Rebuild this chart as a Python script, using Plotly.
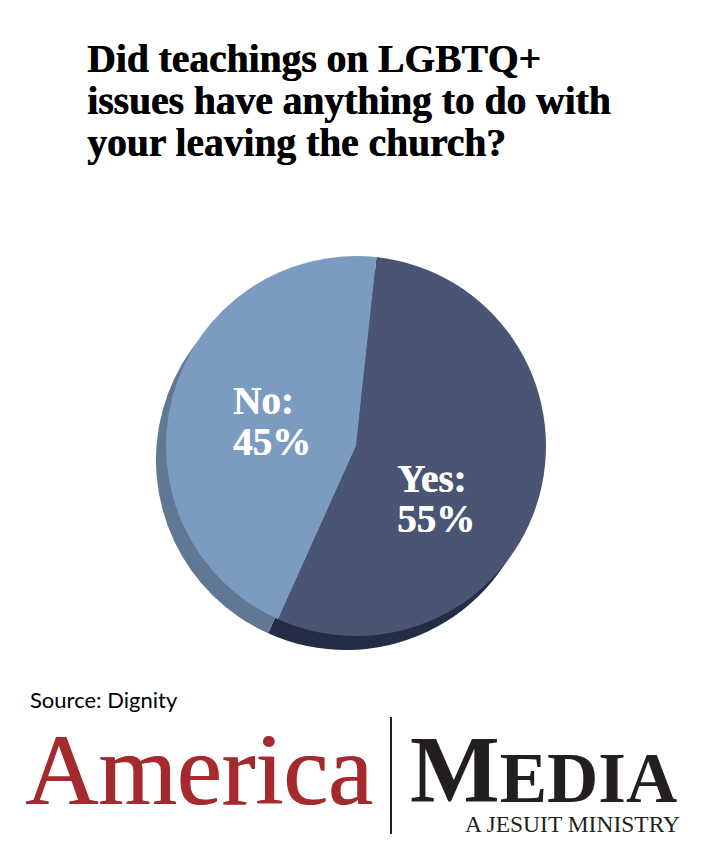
import plotly.graph_objects as go

W, H = 703, 854
categories = ["Yes", "No"]
values = [55, 45]
pie_colors = ["#4a5573", "#7c9bc0"]
shadow_colors = ["#252c45", "#607894"]
title_lines = ["Did teachings on LGBTQ+", "issues have anything to do with", "your leaving the church?"]
yes_lines = ["Yes:", "55%"]
no_lines = ["No:", "45%"]
source = "Source: Dignity"


def domain(cx, cy, r):
    return dict(x=[(cx - r) / W, (cx + r) / W], y=[1 - (cy + r) / H, 1 - (cy - r) / H])


def pie(colors, cx, cy):
    return go.Pie(labels=categories, values=values, sort=False, direction="clockwise",
                  rotation=6.2, marker=dict(colors=colors, line=dict(width=0)),
                  textinfo="none", hoverinfo="label+percent", showlegend=False,
                  domain=domain(cx, cy, 190))


fig = go.Figure([pie(shadow_colors, 346, 460), pie(pie_colors, 356, 446)])


def text(x, y, s, size, color="#000000", family="Liberation Serif", anchor="left", shadow=None):
    font = dict(size=size, color=color, family=family)
    if shadow:
        font["shadow"] = shadow
    fig.add_annotation(x=x / W, y=1 - y / H, xref="paper", yref="paper", text=s, showarrow=False,
                       xanchor=anchor, yanchor="middle", align=anchor, font=font)


for i, line in enumerate(title_lines):
    text(85, 59 + i * 42, f"<b>{line}</b>", 39.5, shadow="0.7px 0 0 #000000")
for i, line in enumerate(yes_lines):
    text(395, 479 + i * 39, f"<b>{line}</b>", 39, "#ffffff", shadow="0.6px 0 0 #ffffff")
for i, line in enumerate(no_lines):
    text(231, 401 + i * 40, f"<b>{line}</b>", 39, "#ffffff", shadow="0.6px 0 0 #ffffff")
text(28, 699, source, 22, family="Lato")
text(23, 770, "America", 101, "#a52a2e", shadow="1px 0 0 #a52a2e")
text(408, 770, "<b>M<span style='font-size:71px'>EDIA</span></b>", 95, "#231f20")
text(682, 824, "A JESUIT MINISTRY", 23.5, "#231f20", anchor="right")
fig.add_shape(type="line", xref="paper", yref="paper", x0=391 / W, x1=391 / W,
              y0=1 - 717 / H, y1=1 - 834 / H, line=dict(color="#231f20", width=2))
fig.update_layout(width=W, height=H, margin=dict(l=0, r=0, t=0, b=0), paper_bgcolor="#ffffff")
fig.write_html("out.html", config=dict(displayModeBar=False),
               post_script="document.body.style.margin='0';")
